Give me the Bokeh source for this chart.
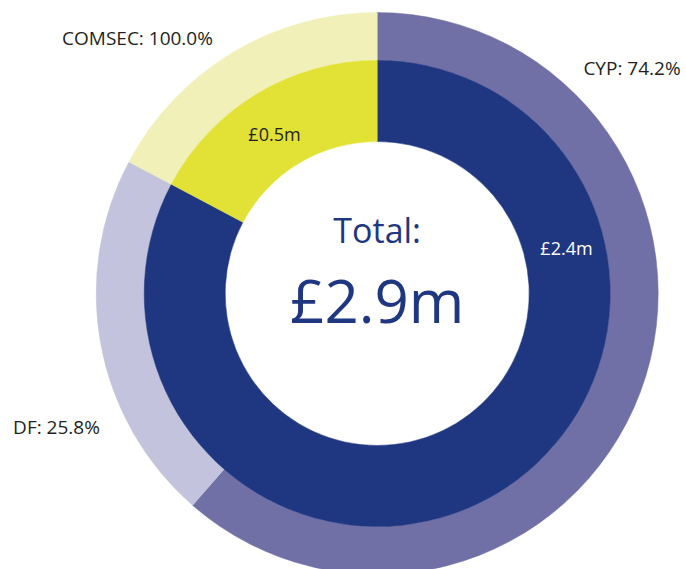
import math
from bokeh.plotting import figure
from bokeh.models import Range1d, ColumnDataSource
from bokeh.core.properties import value
from bokeh.embed import file_html
from bokeh.resources import INLINE

# ---- data ----
inner_labels = ["£2.4m", "£0.5m"]
inner_values = [2.4, 0.5]
outer_names = ["CYP", "DF", "COMSEC"]
outer_pcts = [74.2, 25.8, 100.0]
outer_parent = [0, 0, 1]
total_title = "Total:"
total_label = "£2.9m"

inner_colors = ["#1F3780", "#E2E236"]
outer_colors = ["#7070A6", "#C3C3DD", "#F0F0B8"]

# ---- geometry (pixel-like data units) ----
CX, CY = 376.7, -293.0
R0, R1, R2 = 152, 233, 281
FONT = "Open Sans"
W, H = 686, 569

total = sum(inner_values)

def to_bokeh(frac):
    # fraction clockwise from 12 o'clock -> bokeh angle (ccw from +x)
    return math.pi / 2 - 2 * math.pi * frac

inner_start, inner_end = [], []
acc = 0.0
for v in inner_values:
    inner_start.append(to_bokeh(acc))
    acc += v / total
    inner_end.append(to_bokeh(acc))

outer_values = [inner_values[p] * pc / 100.0 for p, pc in zip(outer_parent, outer_pcts)]
outer_start, outer_end = [], []
acc = 0.0
for v in outer_values:
    outer_start.append(to_bokeh(acc))
    acc += v / total
    outer_end.append(to_bokeh(acc))

p = figure(width=W, height=H, x_range=Range1d(0, W), y_range=Range1d(-H, 0),
           output_backend="svg", toolbar_location=None, x_axis_type=None, y_axis_type=None,
           min_border=0, outline_line_color=None)
p.grid.visible = False
p.background_fill_color = "white"
p.border_fill_color = "white"

inner_src = ColumnDataSource(dict(start=inner_start, end=inner_end, color=inner_colors))
outer_src = ColumnDataSource(dict(start=outer_start, end=outer_end, color=outer_colors))

p.annular_wedge(x=CX, y=CY, inner_radius=R1, outer_radius=R2, start_angle="start",
                end_angle="end", direction="clock", fill_color="color", line_color="color",
                line_width=0.5, source=outer_src)
p.annular_wedge(x=CX, y=CY, inner_radius=R0, outer_radius=R1, start_angle="start",
                end_angle="end", direction="clock", fill_color="color", line_color="color",
                line_width=0.5, source=inner_src)

# inner value labels
inner_pos = [(566, -247), (274, -133.5)]
inner_text_colors = ["white", "#231F20"]
p.text(x=[q[0] for q in inner_pos], y=[q[1] for q in inner_pos], text=inner_labels,
       text_color=inner_text_colors, text_font=value(FONT), text_font_size="18px",
       text_align="center", text_baseline="middle")

# outer labels
outer_text = [f"{n}: {pc:.1f}%" for n, pc in zip(outer_names, outer_pcts)]
outer_pos = [(631.5, -67.5), (56, -426), (137, -37)]
p.text(x=[q[0] for q in outer_pos], y=[q[1] for q in outer_pos], text=outer_text,
       text_color="#231F20", text_font=value(FONT), text_font_size="19px",
       text_align="center", text_baseline="middle")

# centre
p.text(x=[CX], y=[-229], text=[total_title], text_color="#1F3780", text_font=value(FONT),
       text_font_size="34px", text_align="center", text_baseline="middle")
p.text(x=[CX], y=[-299], text=[total_label], text_color="#1F3780", text_font=value(FONT),
       text_font_size="60px", text_align="center", text_baseline="middle")

open("out.html", "w").write(file_html(p, INLINE))
